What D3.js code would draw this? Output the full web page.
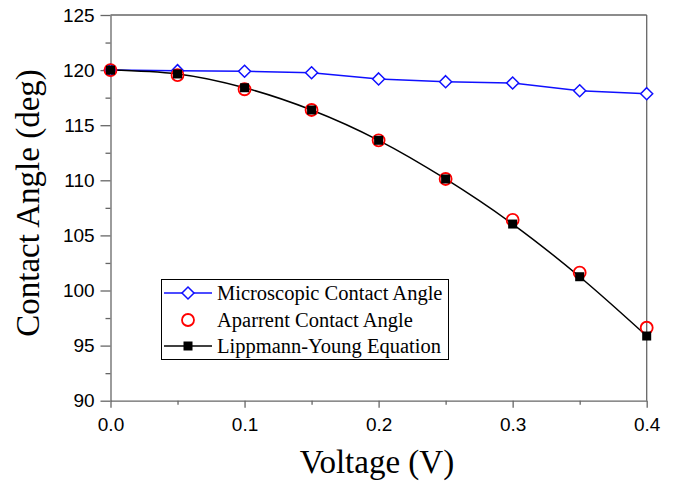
<!DOCTYPE html>
<html>
<head>
<meta charset="utf-8">
<script src="https://cdn.jsdelivr.net/npm/d3@7"></script>
<style>
  body { margin: 0; background: #fff; }
  svg { display: block; }
</style>
</head>
<body>
<svg width="675" height="487"></svg>
<script>
// values
var voltage = [0, 0.05, 0.1, 0.15, 0.2, 0.25, 0.3, 0.35, 0.4];
var microAngle = [120, 119.95, 119.9, 119.76, 119.2, 118.95, 118.83, 118.13, 117.86];
var apparentAngle = [120, 119.55, 118.26, 116.38, 113.63, 110.12, 106.4, 101.62, 96.62];
var lippmannAngle = [120, 119.65, 118.4, 116.38, 113.63, 110.12, 106.03, 101.25, 95.87];
var xTicks = [0, 0.1, 0.2, 0.3, 0.4];
var yTicks = [90, 95, 100, 105, 110, 115, 120, 125];
var legendLabels = ["Microscopic Contact Angle", "Aparrent Contact Angle", "Lippmann-Young Equation"];

var svg = d3.select("svg");
var plotL = 110.5, plotR = 646.7, plotT = 15, plotB = 400.7;

var x = d3.scaleLinear().domain([0, 0.4]).range([plotL, plotR]);
var y = d3.scaleLinear().domain([90, 125]).range([plotB, plotT]);

var axisColor = "#666";

// frame (top and right lines, no ticks)
svg.append("line").attr("x1", plotL).attr("x2", plotR).attr("y1", plotT).attr("y2", plotT)
    .attr("stroke", axisColor).attr("stroke-width", 1.3);
svg.append("line").attr("x1", plotR).attr("x2", plotR).attr("y1", plotT).attr("y2", plotB)
    .attr("stroke", axisColor).attr("stroke-width", 1.3);

// x axis
var xAxis = svg.append("g").attr("transform", "translate(0," + plotB + ")")
    .call(d3.axisBottom(x).tickValues(xTicks).tickFormat(d3.format(".1f")).tickSize(7).tickSizeOuter(0));
svg.append("g").attr("transform", "translate(0," + plotB + ")")
    .call(d3.axisBottom(x).tickValues([0.05, 0.15, 0.25, 0.35]).tickFormat("").tickSize(4).tickSizeOuter(0))
    .select(".domain").remove();

// y axis
var yAxis = svg.append("g").attr("transform", "translate(" + plotL + ",0)")
    .call(d3.axisLeft(y).tickValues(yTicks).tickSize(10).tickSizeOuter(0));
svg.append("g").attr("transform", "translate(" + plotL + ",0)")
    .call(d3.axisLeft(y).tickValues([92.5, 97.5, 102.5, 107.5, 112.5, 117.5, 122.5]).tickFormat("").tickSize(5).tickSizeOuter(0))
    .select(".domain").remove();

svg.selectAll(".domain, .tick line").attr("stroke", axisColor).attr("stroke-width", 1.3);
svg.selectAll(".tick text")
    .attr("font-family", "Liberation Sans, Arial, sans-serif")
    .attr("font-size", 19).attr("fill", "#000");
xAxis.selectAll(".tick text").attr("dy", "1.05em");
yAxis.selectAll(".tick text").attr("dx", "-0.15em");

// axis titles
svg.append("text")
    .attr("x", 377).attr("y", 473)
    .attr("text-anchor", "middle")
    .attr("font-family", "Liberation Serif, Times New Roman, serif")
    .attr("font-size", 33)
    .text("Voltage (V)");
svg.append("text")
    .attr("transform", "translate(39,203) rotate(-90)")
    .attr("text-anchor", "middle")
    .attr("font-family", "Liberation Serif, Times New Roman, serif")
    .attr("font-size", 33)
    .text("Contact Angle (deg)");

var micro = voltage.map(function(v, i) { return { x: v, y: microAngle[i] }; });
var apparent = voltage.map(function(v, i) { return { x: v, y: apparentAngle[i] }; });
var lippmann = voltage.map(function(v, i) { return { x: v, y: lippmannAngle[i] }; });

var line = d3.line().x(function(d) { return x(d.x); }).y(function(d) { return y(d.y); });

// microscopic: blue line with open diamonds
svg.append("path").datum(micro)
    .attr("d", line)
    .attr("fill", "none").attr("stroke", "#1010ff").attr("stroke-width", 1.5);

// lippmann-young: smooth black curve
svg.append("path").datum(lippmann)
    .attr("d", line.curve(d3.curveMonotoneX))
    .attr("fill", "none").attr("stroke", "#000").attr("stroke-width", 1.5);

var diamond = "M0,-6L6,0L0,6L-6,0Z";

svg.append("g").selectAll("path").data(micro).enter().append("path")
    .attr("d", diamond)
    .attr("transform", function(d) { return "translate(" + x(d.x) + "," + y(d.y) + ")"; })
    .attr("fill", "#fff").attr("stroke", "#1010ff").attr("stroke-width", 1.5);

svg.append("g").selectAll("circle").data(apparent).enter().append("circle")
    .attr("cx", function(d) { return x(d.x); })
    .attr("cy", function(d) { return y(d.y); })
    .attr("r", 6)
    .attr("fill", "none").attr("stroke", "#ff0000").attr("stroke-width", 1.8);

svg.append("g").selectAll("rect").data(lippmann).enter().append("rect")
    .attr("x", function(d) { return x(d.x) - 4.5; })
    .attr("y", function(d) { return y(d.y) - 4.5; })
    .attr("width", 9).attr("height", 9)
    .attr("fill", "#000");

// legend
var legend = svg.append("g");
legend.append("rect")
    .attr("x", 161.5).attr("y", 279.5).attr("width", 287).attr("height", 80)
    .attr("fill", "#fff").attr("stroke", "#000").attr("stroke-width", 1);

var rowY = [293, 320, 346];
legend.append("line").attr("x1", 164).attr("x2", 212).attr("y1", rowY[0]).attr("y2", rowY[0])
    .attr("stroke", "#1010ff").attr("stroke-width", 1.5);
legend.append("path").attr("d", diamond)
    .attr("transform", "translate(188," + rowY[0] + ")")
    .attr("fill", "#fff").attr("stroke", "#1010ff").attr("stroke-width", 1.5);
legend.append("circle").attr("cx", 188).attr("cy", rowY[1]).attr("r", 6)
    .attr("fill", "none").attr("stroke", "#ff0000").attr("stroke-width", 1.8);
legend.append("line").attr("x1", 164).attr("x2", 212).attr("y1", rowY[2]).attr("y2", rowY[2])
    .attr("stroke", "#000").attr("stroke-width", 1.5);
legend.append("rect").attr("x", 183.5).attr("y", rowY[2] - 4.5).attr("width", 9).attr("height", 9)
    .attr("fill", "#000");

legend.selectAll("text.lbl").data(legendLabels).enter().append("text")
    .attr("class", "lbl")
    .attr("x", 217)
    .attr("y", function(d, i) { return rowY[i]; })
    .attr("dy", "0.35em")
    .attr("font-family", "Liberation Serif, Times New Roman, serif")
    .attr("font-size", 20.5)
    .text(function(d) { return d; });
</script>
</body>
</html>
